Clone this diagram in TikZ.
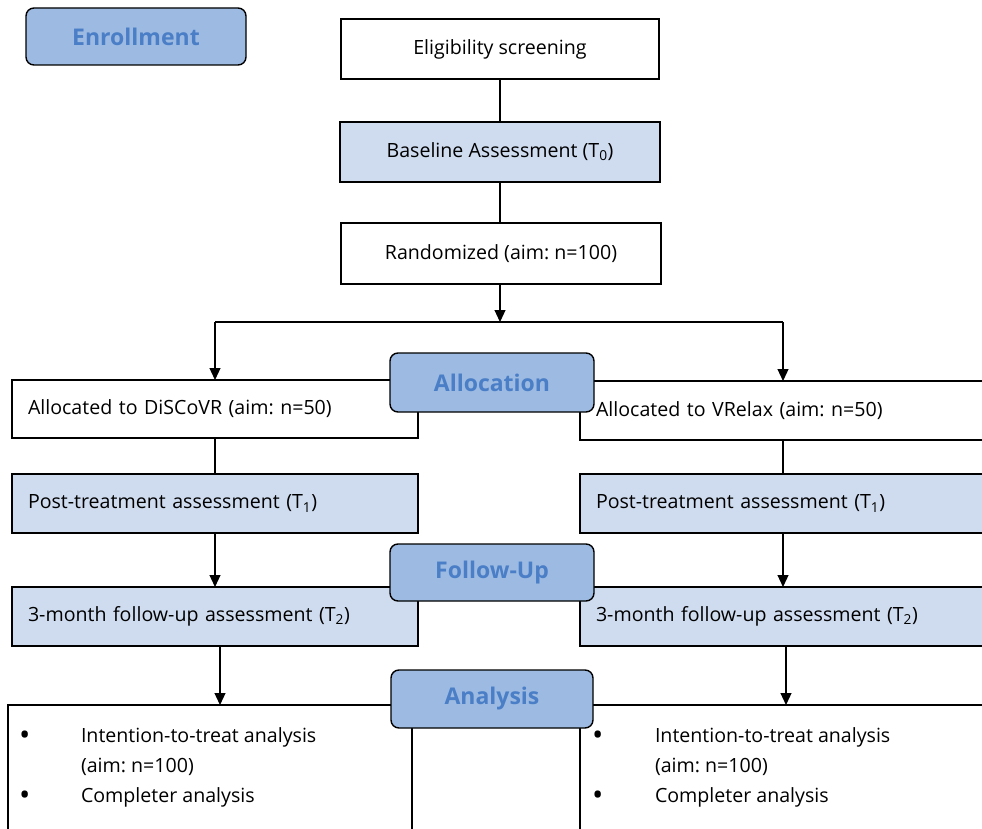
\documentclass[tikz,border=0pt]{standalone}
\usepackage{fontspec}
\setmainfont{Open Sans}
\usetikzlibrary{arrows.meta}
\definecolor{hdrfill}{HTML}{9DBBE2}
\definecolor{hdrtext}{HTML}{4A7EC6}
\definecolor{lightfill}{HTML}{CFDCEF}
\begin{document}
\frenchspacing
\begin{tikzpicture}[x=1pt,y=-1pt,
  line width=1.2pt,
  every node/.style={inner sep=0pt, outer sep=0pt},
  hdr/.style={draw=black, fill=hdrfill, rounded corners=8pt, text=hdrtext,
    font=\fontsize{23}{27}\selectfont\bfseries, line width=1.4pt},
  wbox/.style={draw=black, fill=white, font=\fontsize{19.6}{23}\selectfont},
  lbox/.style={draw=black, fill=lightfill, font=\fontsize{19.6}{23}\selectfont},
  lefttext/.style={align=left, text width=#1},
  btext/.style={font=\fontsize{19.6}{23}\selectfont, anchor=west},
  bul/.style={font=\fontsize{30}{30}\selectfont, anchor=west},
  arr/.style={-{Triangle[length=12pt,width=11pt]}},
  link/.style={}
]
\useasboundingbox (0,0) rectangle (982,829);
\fill[white] (0,0) rectangle (982,829);

% top column
\node[wbox, minimum width=318, minimum height=60] (elig) at (500,49) {Eligibility screening};
\node[lbox, minimum width=320, minimum height=60] (base) at (500,152) {Baseline Assessment (T\textsubscript{0})};
\node[wbox, minimum width=320, minimum height=61] (rand) at (501,253.5) {Randomized (aim: n=100)};

\draw[link] (elig.south) -- (base.north);
\draw[link] (base.south) -- (base.south |- rand.north);

\coordinate (split) at (500,322);
\coordinate (sl) at (215,322);
\coordinate (sr) at (783,322);
\draw[arr] (rand.south -| split) -- (split);
\draw[link] (sl) -- (sr);

% left column
\node[wbox, minimum width=406, minimum height=58, lefttext=374] (lalloc) at (215,409) {Allocated to DiSCoVR (aim: n=50)};
\node[lbox, minimum width=406, minimum height=59, lefttext=374] (lpost) at (215,503.5) {Post-treatment assessment (T\textsubscript{1})};
\node[lbox, minimum width=406, minimum height=59, lefttext=374] (lfol) at (215,616.5) {3-month follow-up assessment (T\textsubscript{2})};
\node[wbox, minimum width=404, minimum height=140] (lana) at (210,775) {};

% right column
\node[wbox, minimum width=410, minimum height=59, lefttext=378] (ralloc) at (785,410.5) {Allocated to VRelax (aim: n=50)};
\node[lbox, minimum width=410, minimum height=59, lefttext=378] (rpost) at (785,503.5) {Post-treatment assessment (T\textsubscript{1})};
\node[lbox, minimum width=410, minimum height=59, lefttext=378] (rfol) at (785,616.5) {3-month follow-up assessment (T\textsubscript{2})};
\node[wbox, minimum width=410, minimum height=140] (rana) at (785,775) {};

% connectors
\draw[arr] (sl) -- (sl |- lalloc.north);
\draw[arr] (sr) -- (sr |- ralloc.north);
\draw[link] (sl |- lalloc.south) -- (sl |- lpost.north);
\draw[link] (sr |- ralloc.south) -- (sr |- rpost.north);
\draw[arr] (sl |- lpost.south) -- (sl |- lfol.north);
\draw[arr] (sr |- rpost.south) -- (sr |- rfol.north);
\coordinate (bl) at (220,646);
\coordinate (br) at (786,646);
\draw[arr] (bl) -- (bl |- lana.north);
\draw[arr] (br) -- (br |- rana.north);

% bullet texts
\node[bul] (lb1) at (19,738) {\textbullet};
\node[btext] (lt1) at (81,737) {Intention-to-treat analysis};
\node[btext] (lt2) at (81,767) {(aim: n=100)};
\node[bul] (lb2) at (19,798) {\textbullet};
\node[btext] (lt3) at (81,797) {Completer analysis};
\node[bul] (rb1) at (592,738) {\textbullet};
\node[btext] (rt1) at (655,737) {Intention-to-treat analysis};
\node[btext] (rt2) at (655,767) {(aim: n=100)};
\node[bul] (rb2) at (592,798) {\textbullet};
\node[btext] (rt3) at (655,797) {Completer analysis};

% phase headers
\node[hdr, minimum width=220, minimum height=57] (enroll) at (136,36.5) {Enrollment};
\node[hdr, minimum width=204, minimum height=59] (allochdr) at (492,382.5) {Allocation};
\node[hdr, minimum width=204, minimum height=57] (fuhdr) at (492,572.5) {Follow-Up};
\node[hdr, minimum width=202, minimum height=58] (anahdr) at (492,699) {Analysis};
\end{tikzpicture}
\end{document}
